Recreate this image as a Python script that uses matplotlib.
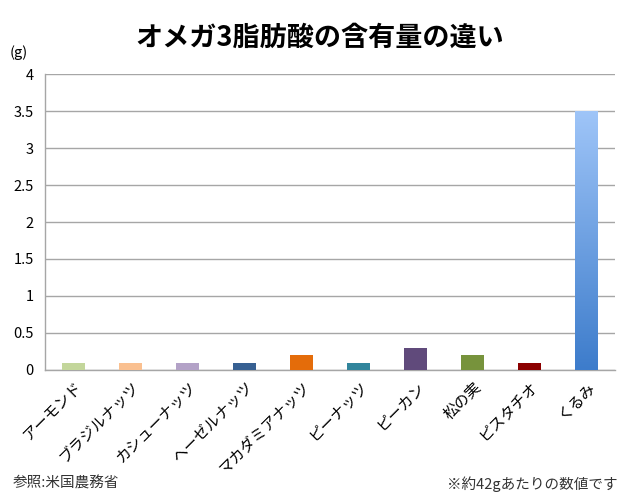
import matplotlib
matplotlib.use("Agg")
import matplotlib.pyplot as plt
import numpy as np
from matplotlib.colors import LinearSegmentedColormap

plt.rcParams['font.family'] = ['Noto Sans CJK JP', 'DejaVu Sans']

# data
nuts = ["アーモンド", "ブラジルナッツ", "カシューナッツ", "ヘーゼルナッツ", "マカダミアナッツ",
        "ピーナッツ", "ピーカン", "松の実", "ピスタチオ", "くるみ"]
omega3 = [0.1, 0.1, 0.1, 0.1, 0.2, 0.1, 0.3, 0.2, 0.1, 3.5]
colors = ["#c3d69b", "#fac090", "#b3a2c7", "#376092", "#e46c0a",
          "#31859c", "#604a7b", "#77933c", "#8b0000", "#5b9bd5"]
yticks = [0, 0.5, 1, 1.5, 2, 2.5, 3, 3.5, 4]

fig = plt.figure(figsize=(6.4, 5.04), dpi=100)
ax = fig.add_axes([0.0703, 0.266, 0.891, 0.587])

x = np.arange(len(nuts))
bars = ax.bar(x, omega3, width=0.4, color=colors, zorder=3)

# gradient for the walnut bar
last = bars[-1]
last.set_facecolor("none")
grad = LinearSegmentedColormap.from_list("g", ["#3d7ccb", "#9fc5f8"])
bx, by = last.get_x(), last.get_y()
bw, bh = last.get_width(), last.get_height()
ax.imshow(np.linspace(0, 1, 256).reshape(-1, 1), cmap=grad, origin="lower",
          extent=[bx, bx + bw, by, by + bh], aspect="auto", zorder=3)

ax.set_xlim(-0.5, len(nuts) - 0.5)
ax.set_ylim(0, 4)
ax.set_yticks(yticks)
ax.set_yticklabels([f"{t:g}" for t in yticks], fontsize=10.5)
ax.set_xticks(x)
ax.set_xticklabels(nuts, rotation=45, ha="right", rotation_mode="anchor", fontsize=11)
ax.tick_params(axis="both", length=0, pad=8)
ax.tick_params(axis="x", pad=6)
ax.yaxis.grid(True, color="#a6a6a6", linewidth=1, zorder=0)
ax.set_axisbelow(True)
for s in ["top", "right"]:
    ax.spines[s].set_visible(False)
for s in ["left", "bottom"]:
    ax.spines[s].set_color("#a6a6a6")
    ax.spines[s].set_linewidth(1)

fig.text(0.5, 0.925, "オメガ3脂肪酸の含有量の違い", ha="center", va="center",
         fontsize=19.5, fontweight="bold")
fig.text(0.03, 0.895, "(g)", ha="center", va="center", fontsize=10.5)
fig.text(0.02, 0.04, "参照:米国農務省", ha="left", va="center", fontsize=10.5, color="#333333")
fig.text(0.965, 0.04, "※約42gあたりの数値です", ha="right", va="center", fontsize=10.5, color="#333333")

fig.savefig("out.png", dpi=100)
